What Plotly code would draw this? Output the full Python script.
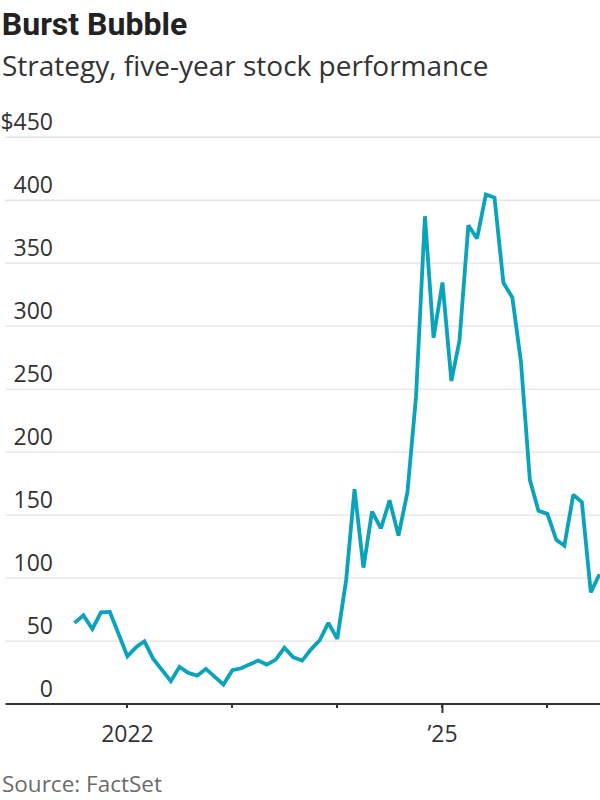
import plotly.graph_objects as go
import pandas as pd

# ---- data (monthly) ----
dates = pd.date_range("2021-07-01", "2026-07-01", freq="MS").strftime("%Y-%m-%d").tolist()
price = [
    64.4, 70.4, 59.6, 72.8, 73.1, 55.5,            # Jul-Dec 2021
    37.9, 45.3, 49.8, 35.8, 27.0, 18.1,            # Jan-Jun 2022
    29.5, 24.7, 22.6, 27.9, 21.6, 15.5,            # Jul-Dec 2022
    26.8, 28.4, 31.3, 34.5, 31.3, 35.3,            # Jan-Jun 2023
    44.6, 37.1, 34.5, 43.2, 50.6, 64.4,            # Jul-Dec 2023
    51.7, 98.7, 170.6, 108.3, 152.8, 139.4,        # Jan-Jun 2024
    161.8, 133.7, 168.0, 244.0, 387.3, 290.8,      # Jul-Dec 2024
    334.7, 256.5, 288.2, 380.1, 369.6, 404.5,      # Jan-Jun 2025
    402.1, 334.4, 322.8, 271.8, 178.0, 153.4,      # Jul-Dec 2025
    151.0, 130.4, 125.7, 166.1, 160.3, 88.6,       # Jan-Jun 2026
    103.0,                                         # Jul 2026
]

y_ticks = [0, 50, 100, 150, 200, 250, 300, 350, 400, 450]
y_ticktext = ["0", "50", "100", "150", "200", "250", "300", "350", "400", "$450"]
x_ticks = ["2022-01-01", "2023-01-01", "2024-01-01", "2025-01-01", "2026-01-01"]
x_ticktext = ["2022", "", "", "\u201925", ""]
long_tick = "2025-01-01"

title = "Burst Bubble"
subtitle = "Strategy, five-year stock performance"
source = "Source: FactSet"

# ---- layout constants ----
W, H = 600, 800
L, R, T, B = 52, 0, 136, 96
PW = W - L - R
PH = H - T - B
GRID = "#e3e3e3"
DARK = "#333333"
LINE = "#0aa3bc"
TICKFONT = "Open Sans, sans-serif"
TEXTFONT = "Open Sans, sans-serif"
TITLEFONT = "Roboto, sans-serif"


def py(pix):
    """pixel row (from top of page) -> paper y of the plot area"""
    return (T + PH - pix) / PH


fig = go.Figure()
fig.add_trace(go.Scatter(
    x=dates, y=price, mode="lines",
    line=dict(color=LINE, width=3.8),
    hoverinfo="skip", showlegend=False,
))

shapes = []
for v in y_ticks[1:]:
    shapes.append(dict(type="line", xref="paper", yref="y",
                       x0=-L / PW, x1=1, y0=v, y1=v,
                       line=dict(color=GRID, width=1.3), layer="below"))
shapes.append(dict(type="line", xref="paper", yref="paper",
                   x0=-L / PW, x1=1, y0=0, y1=0,
                   line=dict(color=DARK, width=2), layer="above"))
shapes.append(dict(type="line", xref="x", yref="paper",
                   x0=long_tick, x1=long_tick, y0=0, y1=-9 / PH,
                   line=dict(color=DARK, width=2), layer="above"))

fig.update_layout(
    width=W, height=H,
    margin=dict(l=L, r=R, t=T, b=B, pad=0),
    paper_bgcolor="white", plot_bgcolor="white",
    shapes=shapes,
    title=dict(text="<b>" + title + "</b>", x=0.003, xref="container", xanchor="left",
               y=1 - 13 / H, yref="container", yanchor="top",
               font=dict(family=TITLEFONT, size=32, color="#222222"),
               pad=dict(t=0, l=0, b=0, r=0)),
    annotations=[
        dict(text=subtitle, xref="paper", yref="paper", x=-L / PW, y=py(65),
             xanchor="left", yanchor="middle", showarrow=False, xshift=-5,
             font=dict(family=TEXTFONT, size=28, color=DARK)),
        dict(text=source, xref="paper", yref="paper", x=-L / PW, y=py(783),
             xanchor="left", yanchor="middle", showarrow=False, xshift=-5,
             font=dict(family=TEXTFONT, size=22.5, color="#6b6b6b")),
    ],
    xaxis=dict(
        type="date", range=["2021-05-01", "2026-07-03"],
        tickvals=x_ticks, ticktext=x_ticktext,
        ticks="outside", ticklen=3, tickwidth=2, tickcolor=DARK,
        ticklabelstandoff=6,
        showgrid=False, zeroline=False, showline=False,
        tickfont=dict(family=TICKFONT, size=23, color=DARK),
        fixedrange=True,
    ),
    yaxis=dict(
        range=[0, 451],
        tickvals=y_ticks, ticktext=y_ticktext,
        ticks="", showgrid=False, zeroline=False, showline=False,
        ticklabelshift=-15, ticklabelstandoff=3,
        tickfont=dict(family=TICKFONT, size=23, color=DARK),
        fixedrange=True,
    ),
)

fig.write_html("out.html")
